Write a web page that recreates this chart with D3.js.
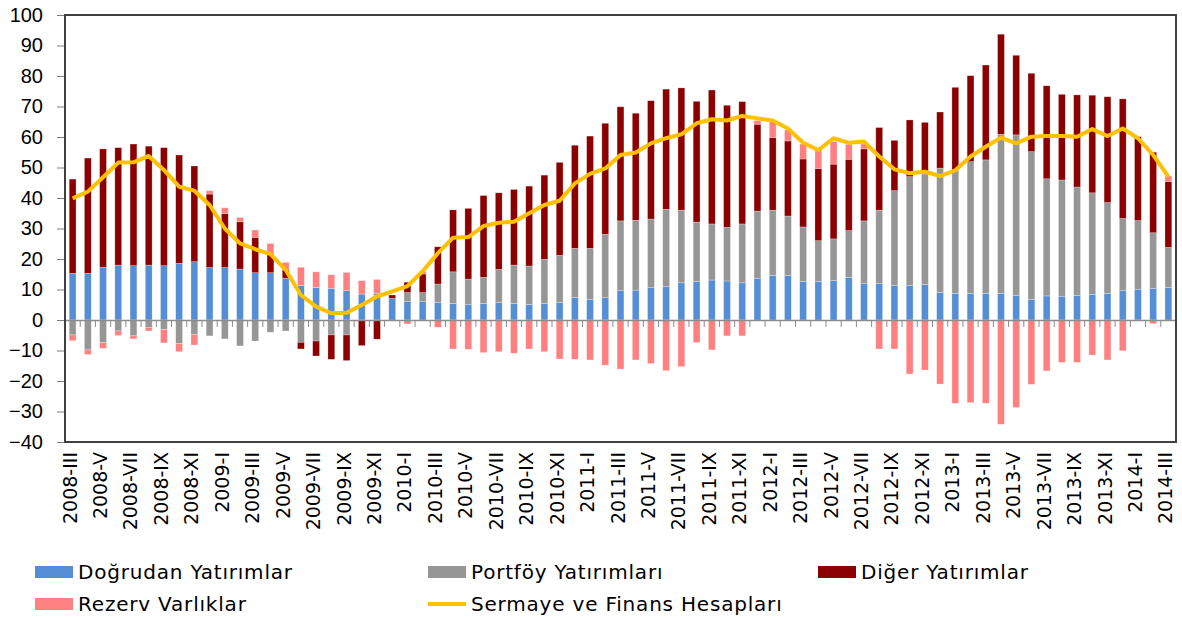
<!DOCTYPE html>
<html>
<head>
<meta charset="utf-8">
<script src="https://cdn.jsdelivr.net/npm/d3@7"></script>
<style>
body { margin: 0; background: #fff; }
text { font-family: "DejaVu Sans", sans-serif; fill: #000; }
</style>
</head>
<body>
<svg id="chart" width="1182" height="618"></svg>
<script>
// aylar (2008-III ... 2014-III)
var months = [
  "2008-III","2008-IV","2008-V","2008-VI","2008-VII","2008-VIII","2008-IX","2008-X","2008-XI","2008-XII",
  "2009-I","2009-II","2009-III","2009-IV","2009-V","2009-VI","2009-VII","2009-VIII","2009-IX","2009-X","2009-XI","2009-XII",
  "2010-I","2010-II","2010-III","2010-IV","2010-V","2010-VI","2010-VII","2010-VIII","2010-IX","2010-X","2010-XI","2010-XII",
  "2011-I","2011-II","2011-III","2011-IV","2011-V","2011-VI","2011-VII","2011-VIII","2011-IX","2011-X","2011-XI","2011-XII",
  "2012-I","2012-II","2012-III","2012-IV","2012-V","2012-VI","2012-VII","2012-VIII","2012-IX","2012-X","2012-XI","2012-XII",
  "2013-I","2013-II","2013-III","2013-IV","2013-V","2013-VI","2013-VII","2013-VIII","2013-IX","2013-X","2013-XI","2013-XII",
  "2014-I","2014-II","2014-III"
];

// etiket gosterilen aylar (iki ayda bir)
var tickLabels = [
  "2008-III","2008-V","2008-VII","2008-IX","2008-XI",
  "2009-I","2009-III","2009-V","2009-VII","2009-IX","2009-XI",
  "2010-I","2010-III","2010-V","2010-VII","2010-IX","2010-XI",
  "2011-I","2011-III","2011-V","2011-VII","2011-IX","2011-XI",
  "2012-I","2012-III","2012-V","2012-VII","2012-IX","2012-XI",
  "2013-I","2013-III","2013-V","2013-VII","2013-IX","2013-XI",
  "2014-I","2014-III"
];

var dogrudan = [15.3,15.3,17.3,18.0,17.8,18.0,17.8,18.6,19.1,17.2,17.2,16.7,15.5,15.5,13.7,11.3,10.7,10.4,9.6,8.5,8.0,7.1,
  6.0,6.0,5.7,5.4,5.0,5.4,5.7,5.4,5.1,5.4,5.7,7.4,6.8,7.3,9.6,9.8,10.6,10.9,12.2,12.6,13.1,12.8,12.2,13.7,
  14.6,14.6,12.6,12.6,12.9,14.0,11.9,11.9,11.4,11.3,11.6,9.0,8.7,8.7,8.7,8.7,8.1,6.8,7.9,7.8,8.1,8.4,8.7,9.6,
  10.1,10.4,10.7];

var portfoy = [-4.9,-9.8,-7.4,-3.6,-5.2,-2.4,-3.1,-7.7,-4.7,-5.2,-6.2,-8.5,-6.9,-4.0,-3.6,-7.3,-6.9,-4.9,-4.9,0,0.8,0,
  3.0,3.0,6.1,10.4,8.4,8.6,10.9,12.6,12.6,14.5,15.5,16.1,16.7,20.8,22.9,22.9,22.5,25.4,23.8,19.5,18.4,17.6,19.3,22.0,
  21.4,19.5,17.9,13.4,13.7,15.3,20.6,24.1,31.0,35.7,36.3,40.8,40.5,43.2,43.8,52.2,52.6,48.4,38.4,38.1,35.5,33.3,29.8,23.7,
  22.5,18.2,13.1];

var diger = [30.9,37.8,38.8,38.5,39.9,39.0,38.7,35.5,31.4,24.1,17.7,15.5,11.6,6.1,2.7,-2.2,-4.9,-8.0,-8.4,-8.4,-6.3,1.1,
  3.4,6.1,12.2,20.3,23.2,26.8,25.1,24.8,26.2,27.6,30.5,33.8,36.8,36.4,37.4,35.1,38.8,39.4,40.1,39.6,43.9,40.0,40.1,28.5,
  23.8,24.6,22.3,23.7,24.5,23.4,23.6,27.1,16.5,18.6,16.9,18.4,27.1,28.2,31.1,32.8,26.1,25.7,30.5,28.1,30.2,32.0,34.7,39.2,
  27.5,26.4,21.6];

var rezerv = [-1.9,-1.5,-1.9,-1.5,-1.0,-1.2,-4.4,-2.7,-3.5,1.1,1.9,1.4,2.4,3.5,2.5,6.0,5.1,4.4,6.0,4.4,4.5,0,
  -1.3,0.8,-2.4,-9.5,-9.6,-10.7,-10.4,-10.9,-9.5,-10.4,-12.8,-12.9,-13.1,-14.8,-16.1,-13.1,-14.3,-16.6,-15.3,-7.4,-9.8,-5.2,-5.2,1.2,
  5.2,3.6,4.9,6.0,7.4,4.9,1.6,-9.5,-9.5,-17.7,-16.4,-21.0,-27.3,-27.1,-27.3,-34.2,-28.7,-21.1,-16.7,-13.9,-13.9,-11.5,-13.1,-10.1,
  -0.3,-1.2,1.8];

var sermaye = [39.9,42.1,46.8,51.6,51.7,53.8,49.2,43.7,42.4,37.7,30.0,25.1,23.2,21.6,16.4,8.2,4.4,2.2,2.4,4.9,7.7,9.4,
  11.1,16.0,21.9,27.0,27.2,30.8,31.9,32.2,35.0,37.7,39.1,44.8,47.9,49.7,54.1,54.9,57.9,59.6,60.9,64.5,65.8,65.4,66.9,66.1,
  65.4,62.8,58.1,55.7,59.6,58.1,58.5,53.6,49.4,48.1,48.6,47.2,49.1,53.6,56.8,59.8,57.9,60.1,60.3,60.3,60.1,62.6,60.3,62.8,
  59.6,54.1,47.0];

var seriesNames = ["Doğrudan Yatırımlar","Portföy Yatırımları","Diğer Yatırımlar","Rezerv Varlıklar"];
var seriesColors = ["#558ed5","#969696","#8b0000","#ff8080"];
var lineName = "Sermaye ve Finans Hesapları";
var lineColor = "#ffc000";

var svg = d3.select("#chart");
var pLeft = 65, pRight = 1176, pTop = 15, pBottom = 442;

var x = d3.scaleBand().domain(months).range([pLeft, pRight]).paddingInner(0.55).paddingOuter(0.275);
var y = d3.scaleLinear().domain([-40, 100]).range([pBottom, pTop]);

// tablo
var rows = months.map(function(m, i) {
  return {month: m, k0: dogrudan[i], k1: portfoy[i], k2: diger[i], k3: rezerv[i]};
});
var stack = d3.stack().keys(["k0","k1","k2","k3"]).offset(d3.stackOffsetDiverging);
var layers = stack(rows);

// y ekseni
var yAxis = svg.append("g")
  .attr("transform", "translate(" + pLeft + ",0)")
  .call(d3.axisLeft(y).tickValues(d3.range(-40, 101, 10)).tickSize(8).tickPadding(14));
yAxis.select(".domain").remove();
yAxis.selectAll(".tick line").attr("stroke", "#7f7f7f");
yAxis.selectAll("text").style("font-size", "20px").style("font-family", "Liberation Sans").attr("fill", "#000");

// cubuklar
svg.append("g").selectAll("g")
  .data(layers)
  .join("g")
  .attr("fill", function(d, i) { return seriesColors[i]; })
  .selectAll("rect")
  .data(function(d) { return d; })
  .join("rect")
  .attr("x", function(d) { return x(d.data.month); })
  .attr("width", x.bandwidth())
  .attr("y", function(d) { return y(Math.max(d[0], d[1])); })
  .attr("height", function(d) { return Math.abs(y(d[0]) - y(d[1])); })
  .attr("stroke", "rgba(255,255,255,0.45)")
  .attr("stroke-width", 0.6);

// sifir cizgisi ve tikler
var xAxis = svg.append("g")
  .attr("transform", "translate(0," + y(0) + ")")
  .call(d3.axisBottom(x).tickSize(0).tickFormat(""));
xAxis.select(".domain").attr("stroke", "#8c8c8c").attr("stroke-width", 1.5);
xAxis.selectAll(".tick").remove();
var step = x.step();
xAxis.selectAll("line.sep")
  .data(d3.range(months.length + 1))
  .join("line")
  .attr("class", "sep")
  .attr("x1", function(i) { return pLeft + i * step; })
  .attr("x2", function(i) { return pLeft + i * step; })
  .attr("y1", 0).attr("y2", 7)
  .attr("stroke", "#8c8c8c").attr("stroke-width", 1);

// cizgi
var line = d3.line()
  .x(function(d, i) { return x(months[i]) + x.bandwidth() / 2; })
  .y(function(d) { return y(d); });
svg.append("path")
  .datum(sermaye)
  .attr("d", line)
  .attr("fill", "none")
  .attr("stroke", lineColor)
  .attr("stroke-width", 4)
  .attr("stroke-linejoin", "round");

// cerceve
svg.append("rect")
  .attr("x", pLeft).attr("y", pTop)
  .attr("width", pRight - pLeft).attr("height", pBottom - pTop)
  .attr("fill", "none").attr("stroke", "#404040").attr("stroke-width", 2);

// x etiketleri
svg.append("g").selectAll("text")
  .data(tickLabels)
  .join("text")
  .attr("transform", function(d) {
    return "translate(" + (x(d) + x.bandwidth() / 2 + 4) + ",452) rotate(-90)";
  })
  .attr("text-anchor", "end")
  .style("font-size", "19px")
  .text(function(d) { return d; });

// lejant
var legendItems = [
  {name: seriesNames[0], color: seriesColors[0], x: 35, y: 572, type: "rect"},
  {name: seriesNames[1], color: seriesColors[1], x: 428, y: 572, type: "rect"},
  {name: seriesNames[2], color: seriesColors[2], x: 818, y: 572, type: "rect"},
  {name: seriesNames[3], color: seriesColors[3], x: 35, y: 604, type: "rect"},
  {name: lineName, color: lineColor, x: 428, y: 604, type: "line"}
];
var lg = svg.append("g").selectAll("g")
  .data(legendItems)
  .join("g")
  .attr("transform", function(d) { return "translate(" + d.x + "," + d.y + ")"; });
lg.filter(function(d) { return d.type == "rect"; })
  .append("rect")
  .attr("x", 0).attr("y", -6).attr("width", 38).attr("height", 12)
  .attr("fill", function(d) { return d.color; });
lg.filter(function(d) { return d.type == "line"; })
  .append("line")
  .attr("x1", 0).attr("x2", 38).attr("y1", 0).attr("y2", 0)
  .attr("stroke", function(d) { return d.color; }).attr("stroke-width", 4);
lg.append("text")
  .attr("x", 43).attr("y", 7)
  .style("font-size", "20px")
  .style("letter-spacing", "0.8px")
  .text(function(d) { return d.name; });
</script>
</body>
</html>
